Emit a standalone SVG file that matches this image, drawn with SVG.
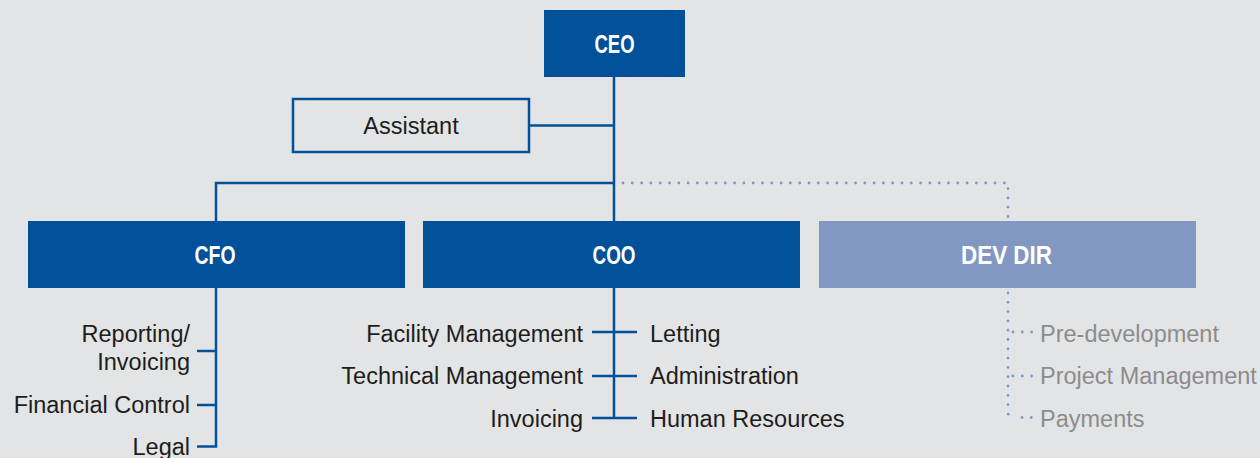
<svg xmlns="http://www.w3.org/2000/svg" width="1260" height="458" viewBox="0 0 1260 458">
  <style>
    .bg { fill: #e3e4e6; }
    .box { fill: #00519a; }
    .box-dev { fill: #8397c3; }
    .box-outline { fill: #e3e4e6; stroke: #00519a; stroke-width: 2.5; }
    .title { font-family: "Liberation Sans", Arial, sans-serif; font-weight: bold; font-size: 25px; fill: #ffffff; text-anchor: middle; }
    .label { font-family: "Liberation Sans", Arial, sans-serif; font-size: 23.5px; fill: #1d1d1b; }
    .label-dev { font-family: "Liberation Sans", Arial, sans-serif; font-size: 23.5px; fill: #8c8c8c; }
    .end { text-anchor: end; }
    .mid { text-anchor: middle; }
    .line { fill: none; stroke: #00519a; stroke-width: 2.5; }
    .dots { fill: none; stroke: #8098c8; stroke-width: 2.8; stroke-linecap: round; stroke-dasharray: 0 9.3; }
  </style>

  <rect class="bg" x="0" y="0" width="1260" height="458"/>

  <!-- connectors -->
  <g id="connectors">
    <!-- CEO trunk down to COO, branch to Assistant -->
    <path class="line" d="M614 77 V221"/>
    <path class="line" d="M529 125.5 H614"/>
    <!-- horizontal bar to CFO -->
    <path class="line" d="M216 221 V183 H614"/>
    <!-- dotted line to DEV DIR -->
    <path class="dots" d="M623 183 H1008 V221"/>

    <!-- CFO branches -->
    <path class="line" d="M216 288 V446.5 H197"/>
    <path class="line" d="M197 351 H216"/>
    <path class="line" d="M197 405 H216"/>

    <!-- COO branches -->
    <path class="line" d="M614 288 V418"/>
    <path class="line" d="M592 332 H637"/>
    <path class="line" d="M592 376 H637"/>
    <path class="line" d="M592 418 H637"/>

    <!-- DEV DIR branches (dotted) -->
    <path class="dots" d="M1008 293 V412 Q1008 417.5 1013 417.5"/>
    <path class="dots" d="M1013 332 H1032"/>
    <path class="dots" d="M1013 376 H1032"/>
    <path class="dots" d="M1022 417.5 H1032"/>
  </g>

  <!-- nodes -->
  <g id="ceo">
    <rect class="box" x="544" y="10" width="141" height="67"/>
    <text class="title" x="614.5" y="52.5" textLength="40" lengthAdjust="spacingAndGlyphs">CEO</text>
  </g>

  <g id="assistant">
    <rect class="box-outline" x="293" y="99" width="236" height="53"/>
    <text class="label mid" x="411" y="134">Assistant</text>
  </g>

  <g id="cfo">
    <rect class="box" x="28" y="221" width="377" height="67"/>
    <text class="title" x="215" y="263.5" textLength="41" lengthAdjust="spacingAndGlyphs">CFO</text>
  </g>

  <g id="coo">
    <rect class="box" x="423" y="221" width="377" height="67"/>
    <text class="title" x="614" y="263.5" textLength="43" lengthAdjust="spacingAndGlyphs">COO</text>
  </g>

  <g id="dev-dir">
    <rect class="box-dev" x="819" y="221" width="377" height="67"/>
    <text class="title" x="1006.5" y="263.5" textLength="91" lengthAdjust="spacingAndGlyphs">DEV DIR</text>
  </g>

  <g id="cfo-units">
    <text class="label end" x="190" y="342">Reporting/</text>
    <text class="label end" x="190" y="370">Invoicing</text>
    <text class="label end" x="190" y="413">Financial Control</text>
    <text class="label end" x="190" y="455">Legal</text>
  </g>

  <g id="coo-units">
    <text class="label end" x="583" y="342">Facility Management</text>
    <text class="label end" x="583" y="384">Technical Management</text>
    <text class="label end" x="583" y="427">Invoicing</text>
    <text class="label" x="650" y="342">Letting</text>
    <text class="label" x="650" y="384">Administration</text>
    <text class="label" x="650" y="427">Human Resources</text>
  </g>

  <g id="dev-units">
    <text class="label-dev" x="1040" y="342">Pre-development</text>
    <text class="label-dev" x="1040" y="384">Project Management</text>
    <text class="label-dev" x="1040" y="427">Payments</text>
  </g>
</svg>
